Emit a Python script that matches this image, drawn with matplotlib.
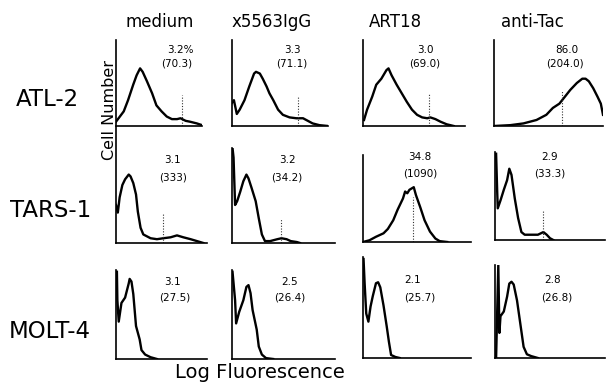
import matplotlib
matplotlib.use("Agg")
import matplotlib.pyplot as plt

W, H = 606, 385

columns = ["medium", "x5563IgG", "ART18", "anti-Tac"]
rows = ["ATL-2", "TARS-1", "MOLT-4"]

pct_labels = [["3.2%", "3.3", "3.0", "86.0"],
              ["3.1", "3.2", "34.8", "2.9"],
              ["3.1", "2.5", "2.1", "2.8"]]
mean_labels = [["(70.3)", "(71.1)", "(69.0)", "(204.0)"],
               ["(333)", "(34.2)", "(1090)", "(33.3)"],
               ["(27.5)", "(26.4)", "(25.7)", "(26.8)"]]

# histogram traces: x = % of log-fluorescence axis, y = % of panel height
atl2_medium_x = [0, 3, 9, 14, 20, 24, 28, 31, 36, 42, 47, 53, 59, 65, 71, 75, 81, 86, 94, 100]
atl2_medium_y = [5, 9, 17, 30, 48, 59, 67, 63, 52, 38, 24, 17, 11, 8, 8, 9, 6, 5, 3, 1]
atl2_igg_x = [0, 2, 5, 8, 13, 18, 23, 25, 29, 32, 36, 39, 43, 48, 53, 60, 67, 74, 79, 84, 91, 100]
atl2_igg_y = [27, 30, 14, 19, 30, 46, 61, 63, 61, 55, 46, 38, 30, 19, 13, 10, 9, 9, 6, 3, 1, 0]
atl2_art_x = [1, 4, 9, 13, 18, 23, 25, 28, 33, 38, 43, 48, 53, 58, 63, 66, 71, 76, 82, 89]
atl2_art_y = [7, 19, 34, 48, 55, 65, 67, 59, 48, 38, 28, 19, 13, 10, 9, 10, 8, 5, 2, 0]
atl2_tac_x = [0, 15, 27, 39, 48, 54, 60, 65, 70, 76, 81, 84, 87, 91, 95, 98, 100]
atl2_tac_y = [0, 1, 3, 7, 13, 21, 26, 34, 42, 50, 55, 55, 52, 44, 34, 26, 13]

tars_medium_x = [0, 2, 4, 7, 10, 14, 16, 19, 22, 24, 27, 30, 38, 45, 52, 60, 67, 74, 82, 89, 96]
tars_medium_y = [40, 32, 48, 61, 67, 72, 70, 63, 51, 33, 16, 9, 5, 4, 5, 6, 8, 6, 4, 2, 0]
tars_igg_x = [0.5, 1.5, 3, 5, 8, 11, 14, 16, 19, 23, 26, 29, 32, 37, 44, 48, 53, 57, 63, 66]
tars_igg_y = [100, 90, 40, 44, 54, 65, 72, 68, 58, 44, 26, 9, 2, 2, 4, 5, 4, 2, 1, 0]
tars_art_x = [0, 6, 12, 19, 23, 28, 32, 37, 39, 41, 43, 47, 49, 53, 57, 62, 67, 71, 78]
tars_art_y = [0, 2, 6, 10, 15, 25, 37, 50, 58, 56, 60, 63, 54, 40, 25, 12, 4, 1, 0]
tars_tac_x = [1, 2, 2.5, 5, 8, 11, 13, 15, 18, 21, 24, 27, 33, 39, 44, 47, 50, 53]
tars_tac_y = [98, 55, 36, 45, 57, 68, 81, 74, 47, 25, 9, 6, 6, 6, 9, 6, 2, 0]

molt_medium_x = [1, 1.5, 3, 6, 10, 14, 15, 17, 19, 22, 26, 28, 32, 38, 45]
molt_medium_y = [98, 66, 42, 63, 69, 85, 90, 87, 73, 37, 22, 10, 5, 2, 0]
molt_igg_x = [0.5, 3, 4, 7, 11, 14, 16, 18, 20, 24, 26, 29, 33, 40]
molt_igg_y = [98, 66, 40, 53, 66, 81, 83, 74, 55, 33, 14, 5, 1, 0]
molt_art_x = [0.5, 1.5, 3, 5, 7, 9, 12, 14, 16, 19, 22, 24, 26, 30, 34]
molt_art_y = [98, 74, 44, 36, 51, 61, 74, 75, 70, 52, 31, 16, 3, 1, 0]
molt_tac_x = [1, 3, 4, 5, 8, 11, 13, 15, 17, 20, 23, 26, 29, 33, 36, 39]
molt_tac_y = [0, 100, 27, 45, 50, 66, 80, 82, 79, 62, 37, 12, 4, 2, 1, 0]

traces = [[(atl2_medium_x, atl2_medium_y), (atl2_igg_x, atl2_igg_y),
           (atl2_art_x, atl2_art_y), (atl2_tac_x, atl2_tac_y)],
          [(tars_medium_x, tars_medium_y), (tars_igg_x, tars_igg_y),
           (tars_art_x, tars_art_y), (tars_tac_x, tars_tac_y)],
          [(molt_medium_x, molt_medium_y), (molt_igg_x, molt_igg_y),
           (molt_art_x, molt_art_y), (molt_tac_x, molt_tac_y)]]

# dotted positive-cell gate markers (x, height)
gate_x = [[77, 69, 65, 62], [52, 48, 46, 44], [None, None, None, None]]
gate_y = [[36, 34, 37, 42], [32, 25, 52, 34], [None, None, None, None]]

# ---- layout (pixels) ----
panel_rects = [
    [(116, 202, 40, 126, 100), (232, 328, 40, 126, 100), (363, 465, 40, 126, 100), (494, 603, 40, 126, 100)],
    [(116, 207, 127, 243, 122), (232, 335, 148, 243, 100), (363, 471, 155, 242, 100), (495, 605, 152, 240, 100)],
    [(116, 207, 270, 359, 100), (232, 335, 270, 359, 100), (363, 471, 257, 358, 100), (495, 605, 265, 358, 100)],
]
pct_pos = [[(180, 50), (292, 50), (425, 50), (567, 50)],
           [(172, 160), (287, 160), (420, 157), (550, 157)],
           [(172, 282), (290, 282), (413, 280), (553, 280)]]
mean_pos = [[(177, 63), (292, 63), (425, 63), (565, 63)],
            [(173, 177), (287, 177), (420, 173), (550, 173)],
            [(175, 298), (290, 298), (420, 297), (557, 297)]]
title_x = [160, 272, 395, 532]
row_y = [100, 211, 332]
row_x = [47, 51, 50]

fig = plt.figure(figsize=(W / 100, H / 100), dpi=100)
fig.patch.set_facecolor("white")


def fx(x):
    return x / W


def fy(y):
    return 1 - y / H


for i in range(3):
    for j in range(4):
        l, r, t, b, ytop = panel_rects[i][j]
        ax = fig.add_axes([fx(l), fy(b), (r - l) / W, (b - t) / H])
        xs, ys = traces[i][j]
        ax.plot(xs, ys, color="black", lw=1.7, solid_joinstyle="round")
        if gate_x[i][j] is not None:
            ax.plot([gate_x[i][j], gate_x[i][j]], [0, gate_y[i][j]],
                    color="#333333", lw=0.8, ls=(0, (1, 1.5)))
        ax.set_xlim(0, 100)
        ax.set_ylim(0, ytop)
        for s in ["top", "right"]:
            ax.spines[s].set_visible(False)
        for s in ["left", "bottom"]:
            ax.spines[s].set_linewidth(1.2)
            ax.spines[s].set_color("black")
        ax.set_xticks([])
        ax.set_yticks([])
        ax.patch.set_alpha(0)
        px, py = pct_pos[i][j]
        fig.text(fx(px), fy(py), pct_labels[i][j], ha="center", va="center", fontsize=7.5)
        mx, my = mean_pos[i][j]
        fig.text(fx(mx), fy(my), mean_labels[i][j], ha="center", va="center", fontsize=7.5)

for j, name in enumerate(columns):
    fig.text(fx(title_x[j]), fy(22), name, ha="center", va="center", fontsize=12)

for i, name in enumerate(rows):
    fig.text(fx(row_x[i]), fy(row_y[i]), name, ha="center", va="center", fontsize=16.5)

fig.text(fx(109), fy(110), "Cell Number", ha="center", va="center", rotation=90, fontsize=11.5)
fig.text(fx(260), fy(372), "Log Fluorescence", ha="center", va="center", fontsize=14)

fig.savefig("out.png", dpi=100, facecolor="white")
